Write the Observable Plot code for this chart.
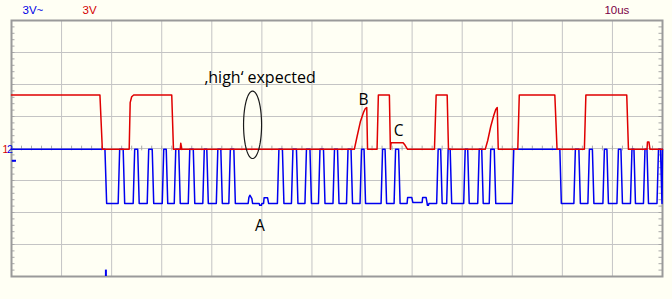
<!DOCTYPE html>
<html><head><meta charset="utf-8">
<script src="https://cdn.jsdelivr.net/npm/d3@7"></script>
<script src="https://cdn.jsdelivr.net/npm/@observablehq/plot@0.6"></script>
<style>
html,body{margin:0;padding:0;background:#fffff4;}
#chart{width:672px;height:299px;overflow:hidden;}
</style></head><body><div id="chart"></div>
<script>
// time in microseconds (10 us / div), voltage in volts (3 V / div)
const redT = [0,17.66,18.14,23.5,23.7,24.0,24.4,32.0,32.34,33.7,33.8,34.0,68.46,69.0,69.66,70.34,70.66,70.94,71.1,73.0,73.26,75.46,75.66,75.8,78.2,78.6,79.1,84.46,84.8,87.0,87.26,94.6,95.1,95.7,96.3,96.7,97.0,97.2,101.1,101.4,108.5,108.94,114.4,114.7,122.86,123.2,126.9,127.0,127.3,127.5,130];
const redV = [5.02,5.02,-0.08,-0.08,4.3,4.85,5.02,5.02,-0.08,-0.08,0.5,-0.08,-0.08,1.1,2.5,3.44,3.75,3.84,-0.08,-0.08,5.02,5.02,-0.08,0.54,0.54,0.3,-0.08,-0.08,5.02,5.02,-0.08,-0.08,0.75,2.06,3.09,3.66,3.84,-0.08,-0.08,5.02,5.02,-0.08,-0.08,5.02,5.02,-0.08,-0.08,0.6,0.6,-0.08,-0.08];

const blueT = [0,18.66,19.0,21.3,21.6,22.3,22.6,24.3,24.6,25.2,25.5,27.1,27.4,28.1,28.4,30.1,30.4,30.9,31.2,32.5,32.8,33.4,33.7,35.3,35.6,36.3,36.6,38.2,38.5,39.0,39.3,40.9,41.2,41.8,42.1,43.4,43.7,44.4,44.7,
 47.26,47.4,47.6,48.0,48.14,49.46,49.56,49.9,50.0,50.34,50.44,51.14,51.34,
 53.1,53.4,54.1,54.4,55.9,56.2,56.9,57.2,58.6,58.9,59.6,59.9,61.3,61.6,62.3,62.6,64.2,64.5,65.1,65.4,66.9,67.2,67.8,68.1,69.6,69.9,70.4,70.7,73.8,74.1,74.6,74.9,76.4,76.7,77.3,77.6,
 79.0,79.1,79.94,80.14,82.0,82.1,82.8,83.0,83.04,83.26,83.36,
 84.9,85.2,85.7,86.0,86.9,87.2,87.6,87.9,90.3,90.6,91.1,91.4,93.1,93.4,93.9,94.2,95.4,95.7,96.4,96.7,100.0,100.3,109.5,109.8,112.3,112.6,113.3,113.6,115.1,115.4,116.0,116.3,118.1,118.4,118.9,119.2,120.9,121.2,121.7,122.0,123.6,123.9,124.3,124.6,126.2,126.5,126.9,127.2,128.9,129.2,129.6,129.9,130.0];
const blueV = [-0.08,-0.08,-5.15,-5.15,-0.08,-0.08,-5.15,-5.15,-0.08,-0.08,-5.15,-5.15,-0.08,-0.08,-5.15,-5.15,-0.08,-0.08,-5.15,-5.15,-0.08,-0.08,-5.15,-5.15,-0.08,-0.08,-5.15,-5.15,-0.08,-0.08,-5.15,-5.15,-0.08,-0.08,-5.15,-5.15,-0.08,-0.08,-5.15,
 -5.15,-4.6,-4.38,-4.7,-5.15,-5.15,-5.32,-5.32,-5.15,-5.15,-4.62,-4.62,-5.15,
 -5.15,-0.08,-0.08,-5.15,-5.15,-0.08,-0.08,-5.15,-5.15,-0.08,-0.08,-5.15,-5.15,-0.08,-0.08,-5.15,-5.15,-0.08,-0.08,-5.15,-5.15,-0.08,-0.08,-5.15,-5.15,-0.08,-0.08,-5.15,-5.15,-0.08,-0.08,-5.15,-5.15,-0.08,-0.08,-5.15,
 -5.15,-4.6,-4.6,-5.06,-5.06,-4.6,-4.6,-5.15,-5.32,-5.32,-5.15,
 -5.15,-0.08,-0.08,-5.15,-5.15,-0.08,-0.08,-5.15,-5.15,-0.08,-0.08,-5.15,-5.15,-0.08,-0.08,-5.15,-5.15,-0.08,-0.08,-5.15,-5.15,-0.08,-0.08,-5.15,-5.15,-0.08,-0.08,-5.15,-5.15,-0.08,-0.08,-5.15,-5.15,-0.08,-0.08,-5.15,-5.15,-0.08,-0.08,-5.15,-5.15,-0.08,-0.08,-5.15,-5.15,-0.08,-0.08,-5.15,-5.15,-0.08,-0.08,-5.15,-0.08];

const gridX = [0,10,20,30,40,50,60,70,80,90,100,110,120,130];
const gridY = [-12,-9,-6,-3,0,3,6,9,12];

const topLabels = ["3V~", "3V", "10us"];
const topLabelT = [2.2, 14.2, 118.4];
const topLabelColors = ["#0000e6", "#d40000", "#7a0046"];

const noteText = ["\u201Ahigh\u2018 expected", "A", "B", "C"];
const noteT = [49.64, 49.6, 70.3, 77.3];
const noteV = [6.62, -7.24, 4.57, 1.64];
const noteSize = [16, 15.5, 15.5, 15.5];

const ellipse = {t: 48.14, v: 2.22, rt: 1.8, rv: 3.16};

const red = redT.map((t, i) => ({t, v: redV[i]}));
const blue = blueT.map((t, i) => ({t, v: blueV[i]}));
const minorY = d3.range(-12, 12.001, 0.6);
const minorX = d3.range(0, 130.01, 2);
const ell = d3.range(0, 361, 4).map(a => ({t: ellipse.t + ellipse.rt * Math.cos(a * Math.PI / 180), v: ellipse.v + ellipse.rv * Math.sin(a * Math.PI / 180)}));
const tops = topLabels.map((s, i) => ({s, t: topLabelT[i], c: topLabelColors[i]}));
const notes = noteText.map((s, i) => ({s, t: noteT[i], v: noteV[i], f: noteSize[i]}));

const chart = Plot.plot({
  width: 672, height: 299,
  marginLeft: 11, marginRight: 10, marginTop: 20, marginBottom: 23,
  x: {domain: [0, 130], axis: null},
  y: {domain: [-12, 12], axis: null},
  style: {background: "#fffff4", overflow: "visible"},
  marks: [
    Plot.ruleX(gridX, {stroke: "#c4c4c4", strokeWidth: 1, strokeOpacity: 1}),
    Plot.ruleY(gridY, {stroke: "#c4c4c4", strokeWidth: 1, strokeOpacity: 1}),
    Plot.ruleY(minorY, {x1: 0, x2: 0.7, stroke: "#a8a8a8", strokeOpacity: 1}),
    Plot.ruleY(minorY, {x1: 129.3, x2: 130, stroke: "#a8a8a8", strokeOpacity: 1}),
    Plot.ruleX(minorX, {y1: -0.22, y2: 0.22, stroke: "#a8a8a8", strokeOpacity: 1}),
    Plot.frame({stroke: "#9a9a9a", strokeWidth: 2, strokeOpacity: 1}),
    Plot.line(blue, {x: "t", y: "v", stroke: "#0000f0", strokeWidth: 1.5}),
    Plot.line(red, {x: "t", y: "v", stroke: "#e00000", strokeWidth: 1.5}),
    Plot.line(ell, {x: "t", y: "v", stroke: "#1a1a1a", strokeWidth: 1.2}),
    Plot.text(notes, {x: "t", y: "v", text: "s", fontSize: d => d.f, fill: "#000", fontFamily: "Open Sans", textAnchor: "middle", lineAnchor: "middle"}),
    Plot.text(tops, {x: "t", y: 12.98, text: "s", fill: "c", fontSize: 11.5, fontFamily: "Liberation Sans", textAnchor: "start", lineAnchor: "middle"}),
    Plot.text(["1"], {x: -1.8, y: -0.08, text: d => d, fill: "#d40000", fontSize: 10.5, fontFamily: "Liberation Sans", textAnchor: "start", lineAnchor: "middle"}),
    Plot.text(["2"], {x: -0.9, y: -0.08, text: d => d, fill: "#0000e6", fontSize: 10.5, fontFamily: "Liberation Sans", textAnchor: "start", lineAnchor: "middle"}),
    Plot.ruleY([-1.15], {x1: 0.15, x2: 1.0, stroke: "#0000f0", strokeWidth: 2}),
    Plot.ruleX([18.85], {y1: -11.4, y2: -12, stroke: "#0000f0", strokeWidth: 2})
  ]
});
document.getElementById("chart").appendChild(chart);
</script>
</body></html>
